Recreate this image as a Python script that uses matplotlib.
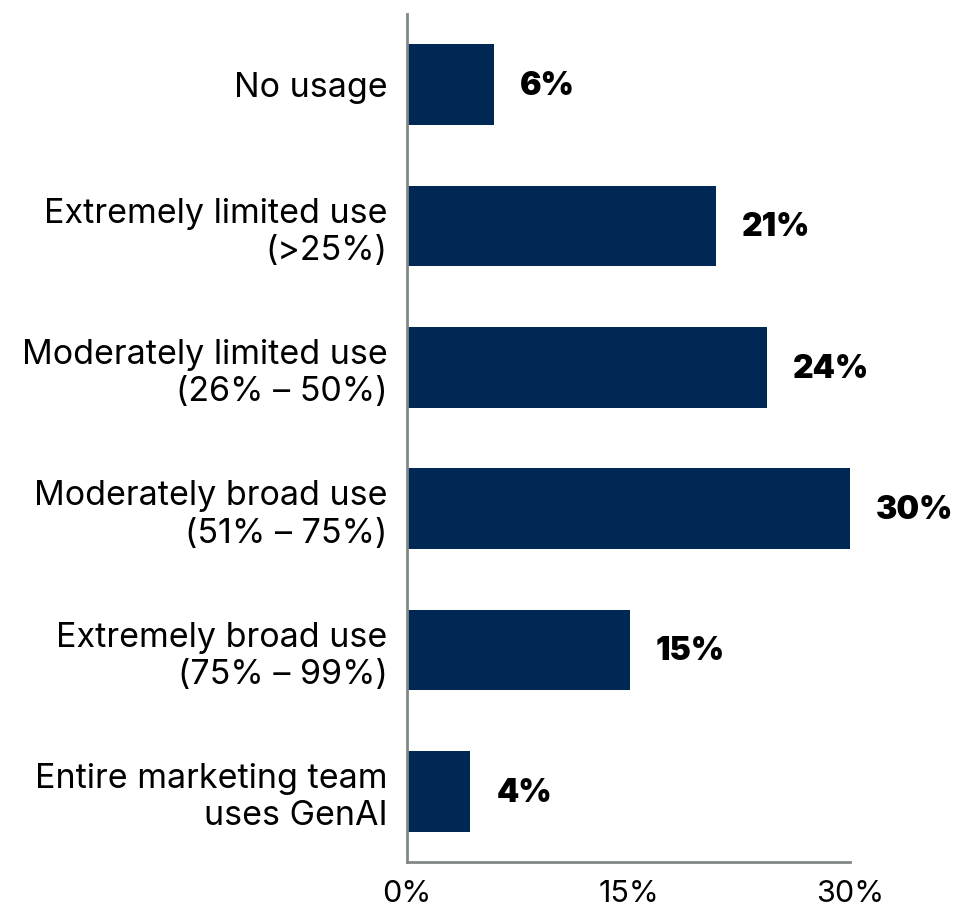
"""
GenAI usage across marketing teams - horizontal bar chart.
"""

import matplotlib
import matplotlib.pyplot as plt
import numpy as np

matplotlib.rcParams["font.family"] = ["Inter", "DejaVu Sans"]

CATEGORIES = [
    "No usage",
    "Extremely limited use\n(>25%)",
    "Moderately limited use\n(26% \u2013 50%)",
    "Moderately broad use\n(51% \u2013 75%)",
    "Extremely broad use\n(75% \u2013 99%)",
    "Entire marketing team\nuses GenAI",
]
VALUES = [5.9, 20.9, 24.4, 30.0, 15.1, 4.3]
LABELS = ["6%", "21%", "24%", "30%", "15%", "4%"]
X_TICKS = [0, 15, 30]
X_TICK_LABELS = ["0%", "15%", "30%"]

BAR_COLOR = "#002855"
AXIS_COLOR = "#7f8787"

fig = plt.figure(figsize=(9.54, 9.11), dpi=100)
ax = fig.add_axes([407 / 954, 1 - 862 / 911, (850 - 407) / 954, (862 - 14) / 911])

y = np.arange(len(CATEGORIES))
ax.barh(y, VALUES, height=0.57, color=BAR_COLOR)

# value labels to the right of each bar
for yi, val, lab in zip(y, VALUES, LABELS):
    ax.annotate(
        lab,
        (val, yi),
        xytext=(26, -2),
        textcoords="offset pixels",
        ha="left",
        va="center",
        fontsize=23,
        fontweight="black",
        color="black",
    )

ax.set_xlim(0, 30)
ax.set_ylim(len(CATEGORIES) - 0.5, -0.5)
ax.set_yticks(y)
ax.set_yticklabels(CATEGORIES, fontsize=24.5, ha="right", linespacing=1.22)
ax.set_xticks(X_TICKS)
ax.set_xticklabels(X_TICK_LABELS, fontsize=22)
ax.tick_params(axis="both", length=0)
ax.tick_params(axis="y", pad=14)
ax.tick_params(axis="x", pad=13)

for side in ["top", "right"]:
    ax.spines[side].set_visible(False)
for side in ["left", "bottom"]:
    ax.spines[side].set_color(AXIS_COLOR)
    ax.spines[side].set_linewidth(2)

fig.savefig("out.png", dpi=100)
